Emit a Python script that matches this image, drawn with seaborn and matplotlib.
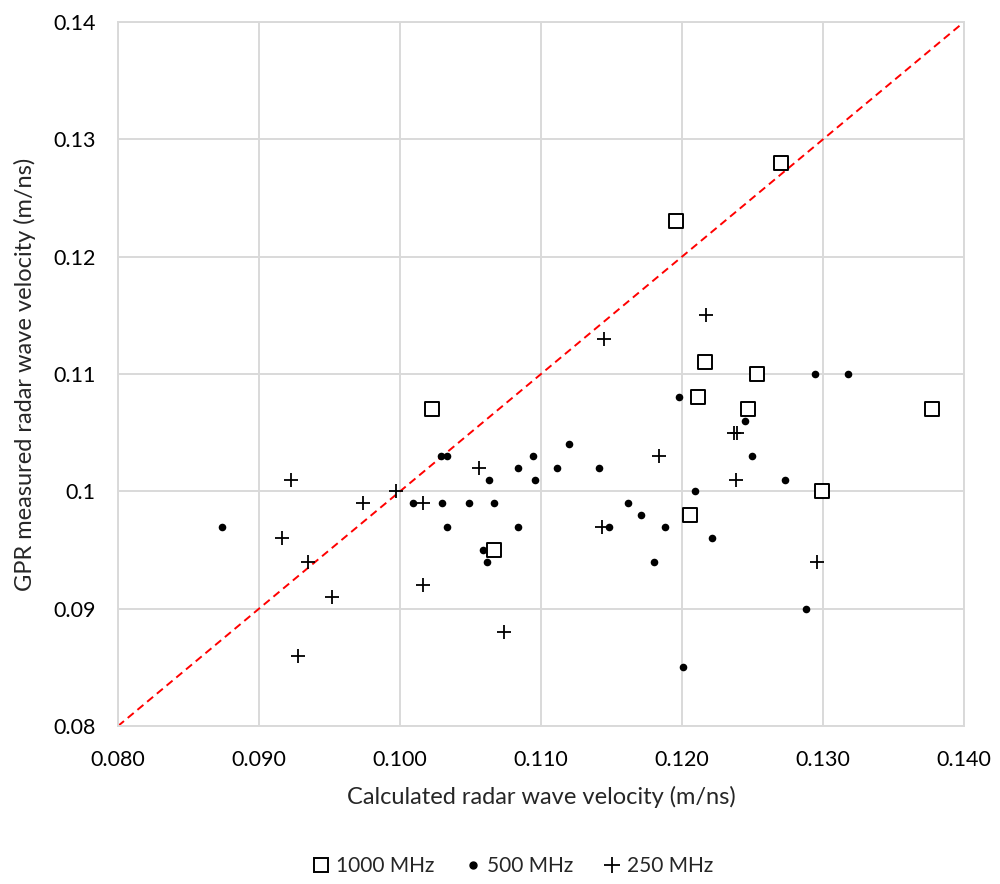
import matplotlib
matplotlib.use("Agg")
import matplotlib.pyplot as plt
import seaborn as sns
import pandas as pd
from matplotlib.lines import Line2D

# ---- data ----
calc_1000 = [0.1270, 0.1196, 0.1023, 0.1216, 0.1253, 0.1211, 0.1247, 0.1377, 0.1299, 0.1206, 0.1067]
gpr_1000  = [0.128, 0.123, 0.107, 0.111, 0.110, 0.108, 0.107, 0.107, 0.100, 0.098, 0.095]

calc_500 = [0.0874, 0.1029, 0.1033, 0.1094, 0.1120, 0.1063, 0.1084, 0.1096, 0.1111, 0.1141,
            0.1009, 0.1030, 0.1049, 0.1067, 0.1033, 0.1084, 0.1059, 0.1062, 0.1148, 0.1162,
            0.1171, 0.1188, 0.1180, 0.1198, 0.1294, 0.1318, 0.1245, 0.1250, 0.1273, 0.1209,
            0.1221, 0.1201, 0.1288]
gpr_500  = [0.097, 0.103, 0.103, 0.103, 0.104, 0.101, 0.102, 0.101, 0.102, 0.102,
            0.099, 0.099, 0.099, 0.099, 0.097, 0.097, 0.095, 0.094, 0.097, 0.099,
            0.098, 0.097, 0.094, 0.108, 0.110, 0.110, 0.106, 0.103, 0.101, 0.100,
            0.096, 0.085, 0.090]

calc_250 = [0.1217, 0.1145, 0.1237, 0.1239, 0.1184, 0.1238, 0.1143, 0.1296, 0.1056, 0.0997,
            0.1016, 0.1016, 0.0923, 0.0974, 0.0916, 0.0935, 0.0952, 0.0928, 0.1074]
gpr_250  = [0.115, 0.113, 0.105, 0.105, 0.103, 0.101, 0.097, 0.094, 0.102, 0.100,
            0.099, 0.092, 0.101, 0.099, 0.096, 0.094, 0.091, 0.086, 0.088]

series_labels = ["1000 MHz", "500 MHz", "250 MHz"]
ref_line = [0.08, 0.14]
x_ticks = [0.080, 0.090, 0.100, 0.110, 0.120, 0.130, 0.140]
x_tick_labels = ["0.080", "0.090", "0.100", "0.110", "0.120", "0.130", "0.140"]
y_ticks = [0.08, 0.09, 0.10, 0.11, 0.12, 0.13, 0.14]
y_tick_labels = ["0.08", "0.09", "0.1", "0.11", "0.12", "0.13", "0.14"]

# ---- style ----
sns.set_theme(style="white")
plt.rcParams["font.family"] = ["Lato", "DejaVu Sans"]

fig = plt.figure(figsize=(10, 8.84), dpi=100)
ax = fig.add_axes([0.118, 0.1787, 0.846, 0.7964])

df1000 = pd.DataFrame({"x": calc_1000, "y": gpr_1000})
df500 = pd.DataFrame({"x": calc_500, "y": gpr_500})
df250 = pd.DataFrame({"x": calc_250, "y": gpr_250})

sns.lineplot(x=ref_line, y=ref_line, ax=ax, color="#ff0000", linestyle=(0, (4, 2.5)),
             linewidth=1.4, zorder=2)
sns.scatterplot(data=df1000, x="x", y="y", ax=ax, marker="s", s=110,
                facecolor="white", edgecolor="black", linewidth=1.4, zorder=3)
sns.scatterplot(data=df500, x="x", y="y", ax=ax, marker="o", s=30,
                color="black", edgecolor="black", linewidth=0, zorder=4)
sns.scatterplot(data=df250, x="x", y="y", ax=ax, marker="+", s=110,
                color="black", linewidth=1.3, zorder=4)

ax.set_xlim(0.08, 0.14)
ax.set_ylim(0.08, 0.14)
ax.set_xticks(x_ticks)
ax.set_xticklabels(x_tick_labels)
ax.set_yticks(y_ticks)
ax.set_yticklabels(y_tick_labels)
ax.tick_params(axis="both", length=0, labelsize=15.5, colors="#000000")
ax.tick_params(axis="x", pad=17)
ax.tick_params(axis="y", pad=16)
ax.grid(True, color="#d9d9d9", linewidth=1.4)
ax.set_axisbelow(True)
for sp in ax.spines.values():
    sp.set_color("#d9d9d9")
    sp.set_linewidth(1.4)

ax.set_xlabel("Calculated radar wave velocity (m/ns)", fontsize=17)
ax.set_ylabel("GPR measured radar wave velocity (m/ns)", fontsize=17)
ax.xaxis.label.set_va("center")
ax.yaxis.label.set_va("center")
ax.xaxis.set_label_coords(0.5, (726 - 797) / 704)
ax.yaxis.set_label_coords((25 - 118) / 846, 0.5)

handles = [
    Line2D([], [], linestyle="none", marker="s", markersize=10.5, markerfacecolor="white",
           markeredgecolor="black", markeredgewidth=1.4),
    Line2D([], [], linestyle="none", marker="o", markersize=5, markerfacecolor="black",
           markeredgecolor="black"),
    Line2D([], [], linestyle="none", marker="+", markersize=11, color="black",
           markeredgewidth=1.3),
]
fig.legend(handles, series_labels, loc="center", bbox_to_anchor=(0.513, 1 - 866 / 884), ncol=3,
           frameon=False, fontsize=15, handlelength=0.8, handletextpad=0.3,
           columnspacing=1.45)

fig.savefig("out.png", dpi=100, facecolor="white")
